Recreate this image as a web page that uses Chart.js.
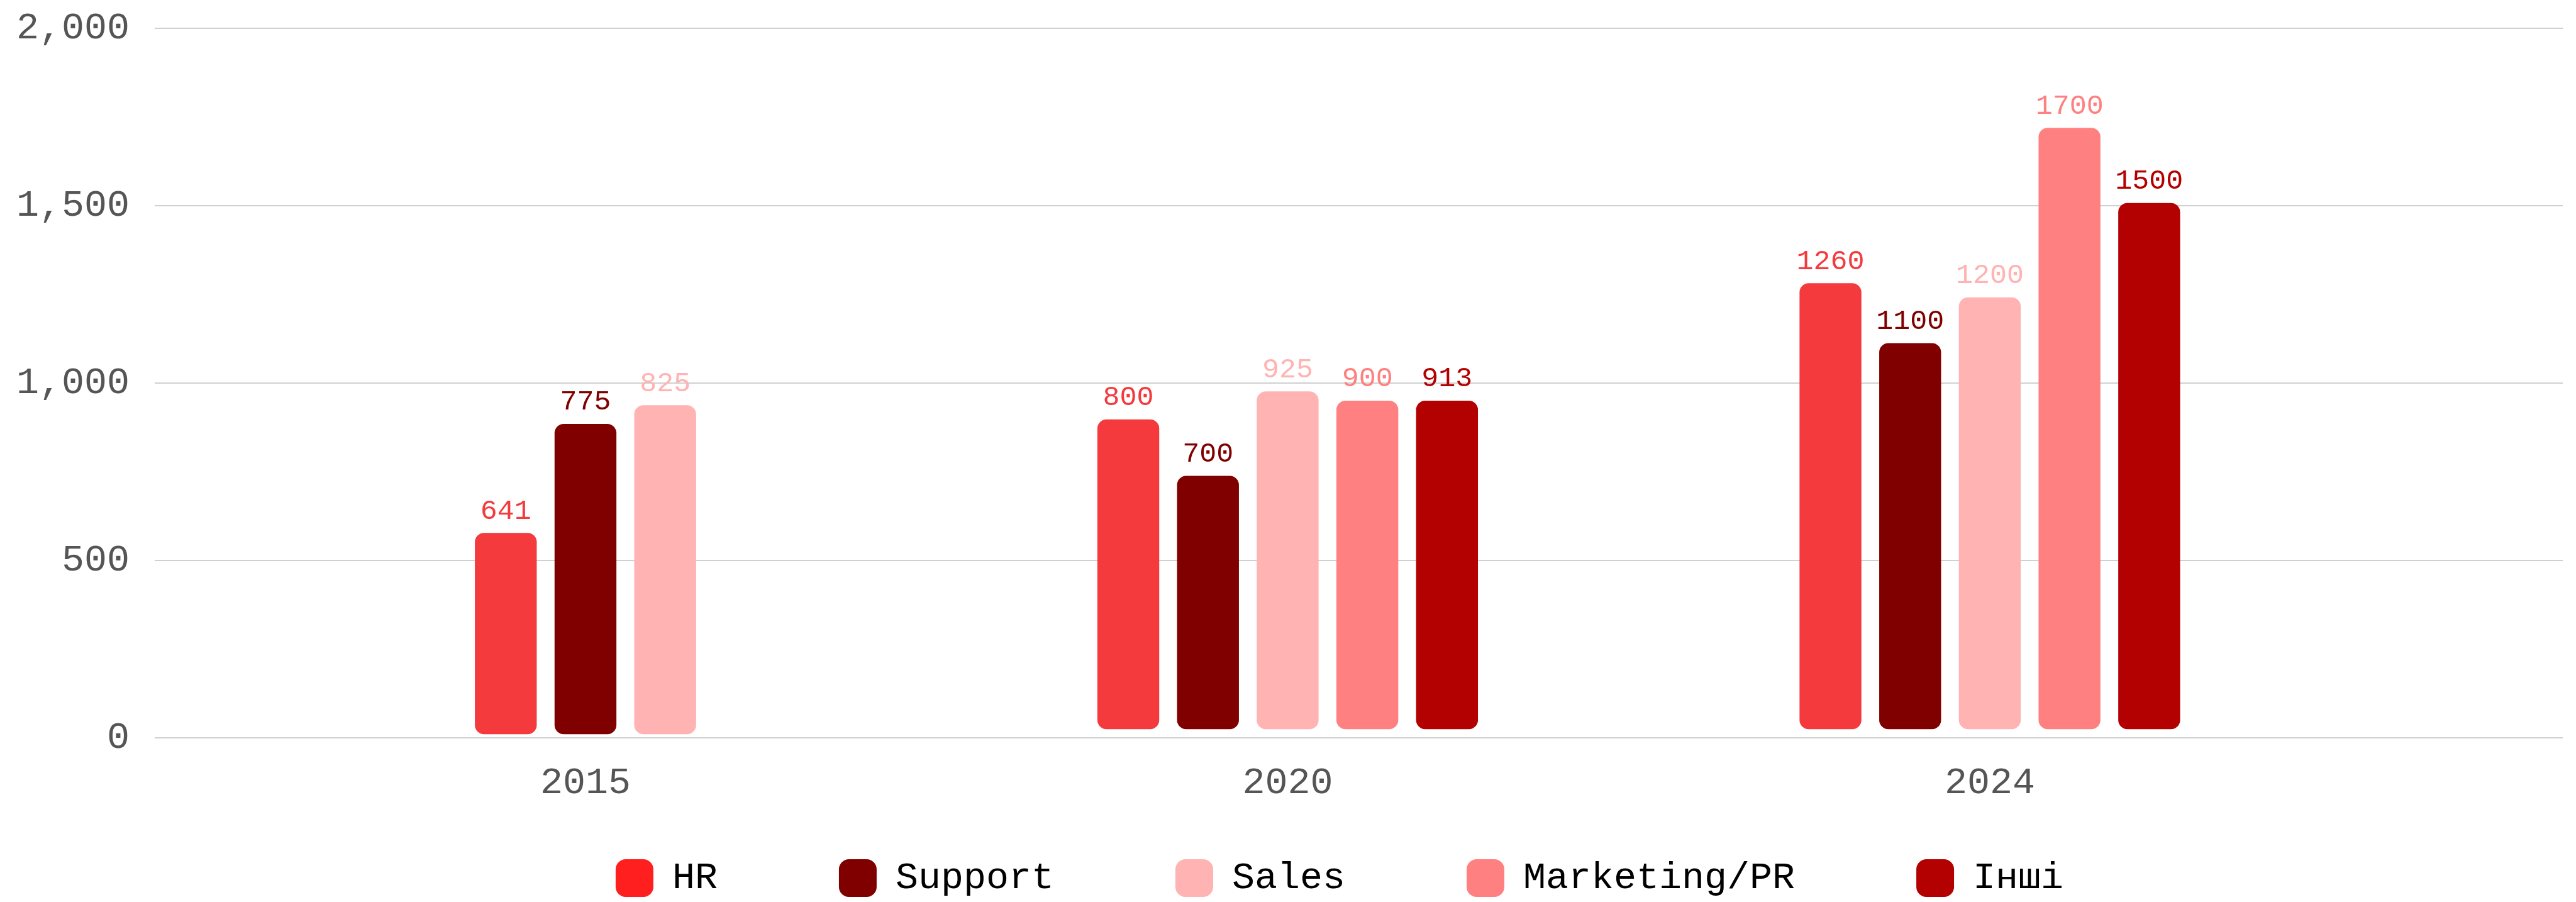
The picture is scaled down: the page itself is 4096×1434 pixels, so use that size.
<!DOCTYPE html>
<html>
<head>
<meta charset="utf-8">
<script src="https://cdn.jsdelivr.net/npm/chart.js@4.4.1/dist/chart.umd.min.js"></script>
<style>
html,body{margin:0;padding:0;background:#ffffff;}
#wrap{width:4096px;height:1434px;position:relative;}
</style>
</head>
<body>
<div id="wrap"><canvas id="c"></canvas></div>
<script>
// ---- data ----
const categories = ['2015', '2020', '2024'];
const seriesNames = ['HR', 'Support', 'Sales', 'Marketing/PR', 'Інші'];
const hrValues = [600, 920, 1304];
const supportValues = [907, 761, 1135];
const salesValues = [960, 999, 1264];
const marketingValues = [null, 973, 1742];
const otherValues = [null, 973, 1530];
const hrLabels = ['641', '800', '1260'];
const supportLabels = ['775', '700', '1100'];
const salesLabels = ['825', '925', '1200'];
const marketingLabels = [null, '900', '1700'];
const otherLabels = [null, '913', '1500'];
const yTickValues = [0, 500, 1000, 1500, 2000];

// ---- styles ----
const barColors = ['#F43A3C', '#800000', '#FFB3B3', '#FF8080', '#B30000'];
const legendColors = ['#FF1F1F', '#800000', '#FFB3B3', '#FF8080', '#B30000'];
const FONT = '"Liberation Mono", "DejaVu Sans Mono", monospace';

const allValues = [hrValues, supportValues, salesValues, marketingValues, otherValues];
const allLabels = [hrLabels, supportLabels, salesLabels, marketingLabels, otherLabels];

// width of the widest y tick label (used to right-align mirrored ticks)
const mctx = document.createElement('canvas').getContext('2d');
mctx.font = '60px ' + FONT;
const widestY = Math.max(...yTickValues.map(v => mctx.measureText(v.toLocaleString('en-US')).width));

const datasets = seriesNames.map((name, di) => ({
  label: name,
  data: allValues[di].map((v, i) => ({ x: i, y: v })),
  backgroundColor: barColors[di],
  borderColor: 'rgba(0,0,0,0)',
  borderSkipped: false,
  borderWidth: (c) => ({ top: 13, left: 14.5, right: 14.5, bottom: c.dataIndex === 0 ? 5 : 13 }),
  borderRadius: 29,
  barThickness: 126.7,
  skipNull: true
}));

const barLabelPlugin = {
  id: 'barLabelPlugin',
  afterDatasetsDraw(chart) {
    const ctx = chart.ctx;
    ctx.save();
    ctx.font = '45px ' + FONT;
    ctx.textAlign = 'center';
    ctx.textBaseline = 'alphabetic';
    chart.data.datasets.forEach((ds, di) => {
      const meta = chart.getDatasetMeta(di);
      meta.data.forEach((el, i) => {
        const t = allLabels[di][i];
        if (t == null || allValues[di][i] == null) return;
        ctx.fillStyle = barColors[di];
        ctx.fillText(t, el.x, el.y - 10);
      });
    });
    ctx.restore();
  }
};

Chart.defaults.font.family = FONT;

new Chart(document.getElementById('c'), {
  type: 'bar',
  data: { datasets },
  plugins: [barLabelPlugin],
  options: {
    responsive: true,
    maintainAspectRatio: false,
    animation: false,
    devicePixelRatio: 1,
    layout: { padding: { left: 185, right: 21, top: 45, bottom: -2 } },
    plugins: {
      tooltip: { enabled: false },
      legend: {
        position: 'bottom',
        fullSize: true,
        labels: {
          font: { size: 60, family: FONT },
          color: '#000000',
          boxWidth: 60,
          boxHeight: 60,
          padding: 193,
          useBorderRadius: true,
          borderRadius: 16,
          generateLabels(chart) {
            const items = Chart.defaults.plugins.legend.labels.generateLabels(chart);
            items.forEach((it, i) => {
              it.fillStyle = legendColors[i];
              it.strokeStyle = 'rgba(0,0,0,0)';
              it.lineWidth = 0;
            });
            return items;
          }
        }
      }
    },
    scales: {
      x: {
        type: 'linear',
        offset: false,
        bounds: 'data',
        min: -0.6135,
        max: 2.816,
        grid: { display: false, offset: false },
        border: { display: false },
        afterBuildTicks(scale) { scale.ticks = categories.map((c, i) => ({ value: i })); },
        afterFit(scale) { scale.height = 0; },
        ticks: {
          autoSkip: false,
          maxRotation: 0,
          mirror: true,
          padding: -108,
          color: '#555555',
          font: { size: 60, family: FONT },
          callback: (v) => categories[v]
        }
      },
      y: {
        min: 0,
        max: 2000,
        afterBuildTicks(scale) { scale.ticks = yTickValues.map(v => ({ value: v })); },
        afterFit(scale) { scale.width = 61; },
        grid: { color: '#d0d0d0', lineWidth: 2, drawTicks: false },
        border: { display: false },
        ticks: {
          mirror: true,
          crossAlign: 'far',
          padding: -40 - widestY,
          color: '#555555',
          font: { size: 60, family: FONT }
        }
      }
    }
  }
});
</script>
</body>
</html>
